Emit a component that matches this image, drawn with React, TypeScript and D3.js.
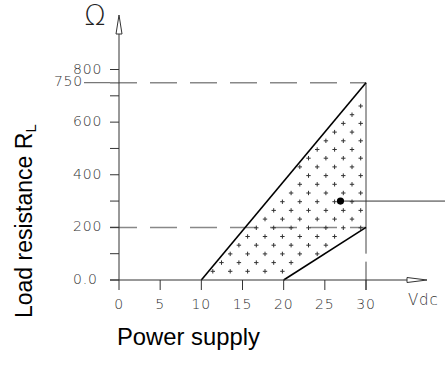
import React from "react";
import * as d3 from "d3";

// supply voltage (Vdc) and load resistance (ohm) values
const xTicks = [0, 5, 10, 15, 20, 25, 30];
const yMajorTicks = [0, 200, 400, 600, 800];
const yMajorLabels = ["0.0", "200", "400", "600", "800"];
const yMinorTicks = [100, 300, 500, 700];

// operating area corners
const areaVoltage = [10, 30, 30, 20];
const areaResistance = [0, 750, 200, 0];

// reference levels drawn as dashed lines
const refLevels = [750, 200];

// marked operating point
const pointVoltage = [26.9];
const pointResistance = [300];

const W = 445;
const H = 365;

const App: React.FC = () => {
  const x = d3.scaleLinear().domain([0, 30]).range([119, 366]);
  const y = d3.scaleLinear().domain([0, 800]).range([280, 69.5]);

  const poly: [number, number][] = areaVoltage.map((v, i) => [x(v), y(areaResistance[i])]);
  const upper = d3.line()([poly[0], poly[1]])!;
  const lower = d3.line()([poly[3], poly[2]])!;

  // cross hatching: staggered grid, keep only crosses fully inside the area
  const arm = 2.2;
  const crosses: [number, number][] = [];
  d3.range(0, 22).forEach((j) => {
    const cy = 106 + j * 8.7;
    d3.range(0, 14).forEach((k) => {
      const cx = 360.7 - (j % 2) * 8.7 - k * 17.4;
      const m = arm + 0.5;
      const ok = [
        [cx - m, cy],
        [cx + m, cy],
        [cx, cy - m],
        [cx, cy + m],
      ].every((p) => d3.polygonContains(poly, p as [number, number]));
      if (ok) crosses.push([cx, cy]);
    });
  });

  const tickFont = "'DejaVu Sans', sans-serif";
  const axisColor = "#333";
  const x0 = x(0);
  const y0 = y(0);

  return (
    <svg
      width={W}
      height={H}
      style={{ position: "absolute", left: 0, top: 0, background: "#fff" }}
    >
      {/* dashed reference levels */}
      <line x1={84} x2={x0} y1={y(750)} y2={y(750)} stroke="#777" strokeWidth={1.3} />
      {refLevels.map((r) => (
        <line
          key={r}
          x1={110}
          x2={x(30)}
          y1={y(r)}
          y2={y(r)}
          stroke="#888"
          strokeWidth={1.5}
          strokeDasharray="27 13"
        />
      ))}

      {/* right edge of the area at 30 Vdc */}
      <line
        x1={x(30)}
        x2={x(30)}
        y1={y(750)}
        y2={y0 + 10}
        stroke="#444"
        strokeWidth={1}
        strokeDasharray="171 8"
      />

      {/* crosses */}
      <g stroke="#333" strokeWidth={1}>
        {crosses.map(([cx, cy], i) => (
          <path key={i} d={`M${cx - arm},${cy}H${cx + arm}M${cx},${cy - arm}V${cy + arm}`} />
        ))}
      </g>

      {/* area boundaries */}
      <path d={upper} stroke="#000" strokeWidth={1.6} fill="none" />
      <path d={lower} stroke="#000" strokeWidth={1.6} fill="none" />

      {/* operating point */}
      {pointVoltage.map((v, i) => (
        <g key={i}>
          <line
            x1={x(v)}
            x2={W}
            y1={y(pointResistance[i])}
            y2={y(pointResistance[i])}
            stroke="#333"
            strokeWidth={1}
          />
          <circle cx={x(v)} cy={y(pointResistance[i])} r={3.6} fill="#000" />
        </g>
      ))}

      {/* y axis */}
      <line x1={x0} x2={x0} y1={y0} y2={33} stroke={axisColor} strokeWidth={1} />
      <path
        d={`M${x0},15L${x0 - 3},34L${x0 + 3},34Z`}
        fill="#fff"
        stroke={axisColor}
        strokeWidth={1}
      />
      {[...yMajorTicks, ...yMinorTicks].map((t) => (
        <line key={t} x1={x0 - 9} x2={x0} y1={y(t)} y2={y(t)} stroke={axisColor} />
      ))}
      {yMajorTicks.map((t, i) => (
        <text
          key={t}
          x={73}
          y={y(t) + 4}
          fontFamily={tickFont}
          fontWeight={200}
          fontSize={14}
          letterSpacing={0.8}
          fill="#333"
        >
          {yMajorLabels[i]}
        </text>
      ))}
      <text
        x={83}
        y={y(750) + 3}
        textAnchor="end"
        fontFamily={tickFont}
        fontWeight={200}
        fontSize={14}
        letterSpacing={0.8}
        fill="#333"
      >
        750
      </text>
      <text
        x={95}
        y={25}
        textAnchor="middle"
        fontFamily={tickFont}
        fontWeight={200}
        fontSize={28}
        fill="#222"
      >
        Ω
      </text>

      {/* x axis */}
      <line x1={110} x2={407} y1={y0} y2={y0} stroke={axisColor} strokeWidth={1} />
      <path
        d={`M427,${y0}L407,${y0 - 2.5}L407,${y0 + 2.5}Z`}
        fill="#fff"
        stroke={axisColor}
        strokeWidth={1}
      />
      {xTicks.map((t) => (
        <g key={t}>
          <line x1={x(t)} x2={x(t)} y1={y0} y2={y0 + 10} stroke={axisColor} />
          <text
            x={x(t)}
            y={309}
            textAnchor="middle"
            fontFamily={tickFont}
            fontWeight={200}
            fontSize={14}
            letterSpacing={0.8}
            fill="#333"
          >
            {t}
          </text>
        </g>
      ))}
      <text
        x={408}
        y={305}
        fontFamily={tickFont}
        fontWeight={200}
        fontSize={15}
        letterSpacing={0.8}
        fill="#333"
      >
        Vdc
      </text>

      {/* axis titles */}
      <text
        transform="translate(32,318) rotate(-90)"
        fontFamily="'Liberation Sans', Arial, sans-serif"
        fontSize={23}
        fill="#000"
      >
        Load resistance R
        <tspan fontSize={15} dy={4}>
          L
        </tspan>
      </text>
      <text
        x={117}
        y={345}
        fontFamily="'Liberation Sans', Arial, sans-serif"
        fontSize={23.8}
        fill="#000"
      >
        Power supply
      </text>
    </svg>
  );
};

export default App;
